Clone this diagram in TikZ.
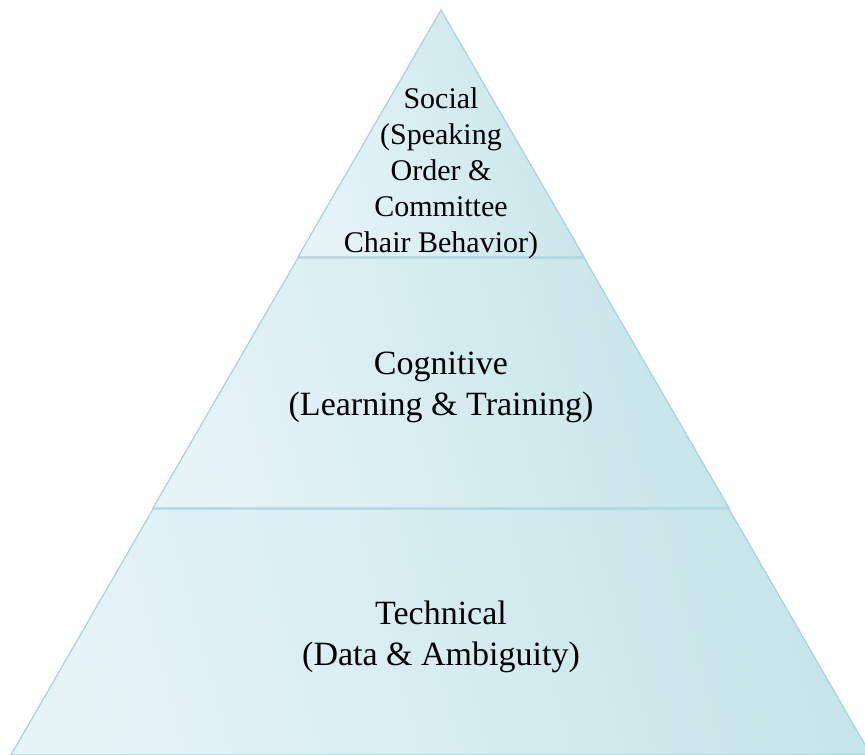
\documentclass[tikz,border=0pt]{standalone}
\usepackage{fontspec}
\setmainfont{Liberation Serif}
\definecolor{pyrline}{HTML}{A2D6DD}
\definecolor{pyrlight}{HTML}{E6F4F6}
\definecolor{pyrdark}{HTML}{C6E5E9}
\begin{document}
\begin{tikzpicture}[x=1pt,y=1pt,line width=1.2pt,
    layer/.style={draw=pyrline,left color=pyrlight,right color=pyrdark,shading angle=105},
    lbl/.style={align=center,inner sep=0pt,text=black}]
    \clip (0,0) rectangle (865,755);
    % layers, bottom to top
    \path[layer] (11,0)--(871,0)--(729,246)--(153,246)--cycle;
    \path[layer] (153,247)--(729,247)--(584.1,497)--(297.9,497)--cycle;
    \path[layer] (297.9,498)--(584.1,498)--(441,745)--cycle;
    \node[lbl,font=\fontsize{34}{41}\selectfont] (tech) at (441,118.5) {Technical\\(Data \& Ambiguity)};
    \node[lbl,font=\fontsize{34}{41}\selectfont] (cogn) at (441,367.5) {Cognitive\\(Learning \& Training)};
    \node[lbl,font=\fontsize{30}{36}\selectfont] (soc) at (441,581.5)
      {Social\\(Speaking\\Order \&\\Committee\\Chair Behavior)};
  \end{tikzpicture}
\end{document}
